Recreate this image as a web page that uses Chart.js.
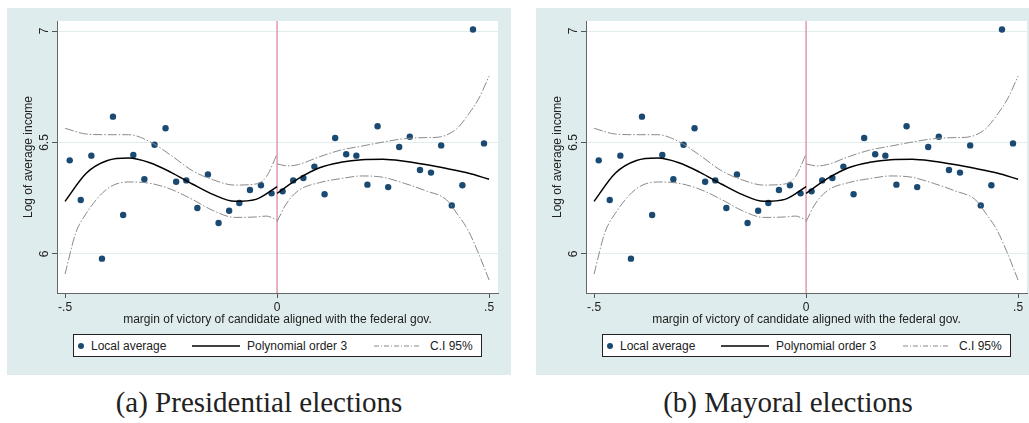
<!DOCTYPE html>
<html>
<head>
<meta charset="utf-8">
<script src="https://cdn.jsdelivr.net/npm/chart.js@4"></script>
<style>
  html, body { margin: 0; padding: 0; background: #fff; }
  body { width: 1029px; height: 423px; position: relative; overflow: hidden; font-family: "Liberation Sans", Arial, sans-serif; }
  .panel { position: absolute; top: 8px; width: 504px; height: 367px; background: #dfeced; }
  .panel canvas { position: absolute; left: 0; top: 0; }
  .legend { position: absolute; left: 66px; top: 326px; width: 409px; height: 23px; box-sizing: border-box;
            border: 1px solid #222; background: #fff; font-size: 12px; color: #222; }
  .legend span, .legend svg { position: absolute; }
  .legend span { top: 4px; white-space: nowrap; }
  .caption { position: absolute; top: 386px; width: 504px; text-align: center;
             font-family: "Liberation Serif", "Times New Roman", serif; font-size: 29px; color: #222; }
</style>
</head>
<body>
<div class="panel" style="left:7px"><canvas id="chartA" width="504" height="367"></canvas>
  <div class="legend">
    <svg style="left:3px;top:7px" width="8" height="8"><circle cx="4" cy="4" r="3" fill="#1a4a72"/></svg>
    <span style="left:17px">Local average</span>
    <svg style="left:118px;top:10px" width="48" height="2"><line x1="0" y1="1" x2="48" y2="1" stroke="#000" stroke-width="1.3"/></svg>
    <span style="left:173px">Polynomial order 3</span>
    <svg style="left:300px;top:10px" width="45" height="2"><line x1="0" y1="1" x2="45" y2="1" stroke="#888" stroke-width="1" stroke-dasharray="5 2 1 2"/></svg>
    <span style="left:356px">C.I 95%</span>
  </div>
</div>
<div class="panel" style="left:536px"><canvas id="chartB" width="504" height="367"></canvas>
  <div class="legend">
    <svg style="left:3px;top:7px" width="8" height="8"><circle cx="4" cy="4" r="3" fill="#1a4a72"/></svg>
    <span style="left:17px">Local average</span>
    <svg style="left:118px;top:10px" width="48" height="2"><line x1="0" y1="1" x2="48" y2="1" stroke="#000" stroke-width="1.3"/></svg>
    <span style="left:173px">Polynomial order 3</span>
    <svg style="left:300px;top:10px" width="45" height="2"><line x1="0" y1="1" x2="45" y2="1" stroke="#888" stroke-width="1" stroke-dasharray="5 2 1 2"/></svg>
    <span style="left:356px">C.I 95%</span>
  </div>
</div>
<div class="caption" style="left:7px">(a) Presidential elections</div>
<div class="caption" style="left:536px">(b) Mayoral elections</div>
<script>
// binned local averages
const binX = [-0.489, -0.463, -0.438, -0.413, -0.387, -0.363, -0.339, -0.313, -0.289, -0.263,
              -0.238, -0.214, -0.188, -0.163, -0.138, -0.113, -0.089, -0.064, -0.038, -0.013,
              0.013, 0.038, 0.062, 0.088, 0.112, 0.137, 0.163, 0.187, 0.213, 0.237,
              0.262, 0.288, 0.313, 0.337, 0.363, 0.387, 0.412, 0.437, 0.462, 0.488];
const localAvg = [6.420, 6.242, 6.441, 5.979, 6.616, 6.175, 6.444, 6.335, 6.490, 6.564,
                  6.324, 6.330, 6.206, 6.357, 6.139, 6.194, 6.229, 6.287, 6.308, 6.272,
                  6.281, 6.330, 6.341, 6.392, 6.268, 6.520, 6.447, 6.441, 6.311, 6.573,
                  6.300, 6.480, 6.526, 6.377, 6.365, 6.487, 6.218, 6.308, 7.007, 6.496];

// polynomial fit, each side of the cutoff
const fitLeftX = [-0.5, -0.45, -0.4, -0.35, -0.3, -0.25, -0.2, -0.15, -0.1, -0.05, 0];
const fitLeftY = [6.236, 6.362, 6.419, 6.430, 6.409, 6.366, 6.314, 6.266, 6.236, 6.245, 6.302];
const fitRightX = [0, 0.05, 0.1, 0.15, 0.2, 0.25, 0.3, 0.35, 0.4, 0.45, 0.5];
const fitRightY = [6.272, 6.338, 6.387, 6.411, 6.423, 6.425, 6.416, 6.401, 6.383, 6.363, 6.335];

// 95% confidence bands
const ciUpLeftX = [-0.5, -0.45, -0.4, -0.35, -0.3, -0.25, -0.2, -0.15, -0.1, -0.05, -0.025, 0];
const ciUpLeftY = [6.564, 6.538, 6.535, 6.535, 6.504, 6.442, 6.374, 6.332, 6.309, 6.314, 6.347, 6.448];
const ciLoLeftX = [-0.5, -0.475, -0.45, -0.4, -0.35, -0.3, -0.25, -0.2, -0.15, -0.1, -0.05, -0.025, 0];
const ciLoLeftY = [5.910, 6.093, 6.182, 6.293, 6.323, 6.317, 6.290, 6.245, 6.194, 6.164, 6.166, 6.170, 6.152];
const ciUpRightX = [0, 0.025, 0.05, 0.1, 0.15, 0.2, 0.25, 0.3, 0.35, 0.375, 0.4, 0.425, 0.45, 0.475, 0.5];
const ciUpRightY = [6.404, 6.395, 6.401, 6.436, 6.466, 6.484, 6.502, 6.517, 6.522, 6.523, 6.534, 6.564, 6.623, 6.695, 6.798];
const ciLoRightX = [0, 0.02, 0.05, 0.1, 0.15, 0.2, 0.25, 0.3, 0.35, 0.4, 0.425, 0.45, 0.475, 0.5];
const ciLoRightY = [6.145, 6.220, 6.284, 6.320, 6.338, 6.350, 6.344, 6.317, 6.284, 6.242, 6.179, 6.108, 6.003, 5.883];

const xTicks = [-0.5, 0, 0.5];
const xTickLabels = ['-.5', '0', '.5'];
const yTicks = [6, 6.5, 7];
const yTickLabels = ['6', '6.5', '7'];
const cutoff = 0;

Chart.defaults.font.family = '"Liberation Sans", Arial, sans-serif';
Chart.defaults.font.size = 12;
Chart.defaults.color = '#222';

function pts(xs, ys) {
    return xs.map((x, i) => ({x: x, y: ys[i]}));
}

const plotBg = {
    id: 'plotBg',
    beforeDraw(chart) {
        const a = chart.chartArea, ctx = chart.ctx;
        ctx.save();
        ctx.fillStyle = '#fff';
        ctx.fillRect(a.left, a.top, a.right - a.left, a.bottom - a.top);
        ctx.restore();
    }
};

const cutoffLine = {
    id: 'cutoffLine',
    beforeDatasetsDraw(chart) {
        const a = chart.chartArea, ctx = chart.ctx;
        const px = chart.scales.x.getPixelForValue(cutoff);
        ctx.save();
        ctx.strokeStyle = '#e0899b';
        ctx.lineWidth = 1.3;
        ctx.beginPath();
        ctx.moveTo(px, a.top);
        ctx.lineTo(px, a.bottom);
        ctx.stroke();
        ctx.restore();
    }
};

function curve(xs, ys, color, width, dash) {
    return {
        data: pts(xs, ys),
        showLine: true,
        borderColor: color,
        borderWidth: width,
        borderDash: dash,
        pointRadius: 0,
        cubicInterpolationMode: 'monotone'
    };
}

function makePanel(id) {
    const ciColor = '#8a8a8a', ciDash = [9, 2, 1.5, 2];
    return new Chart(document.getElementById(id), {
        type: 'scatter',
        data: {
            datasets: [
                curve(ciUpLeftX, ciUpLeftY, ciColor, 1, ciDash),
                curve(ciLoLeftX, ciLoLeftY, ciColor, 1, ciDash),
                curve(ciUpRightX, ciUpRightY, ciColor, 1, ciDash),
                curve(ciLoRightX, ciLoRightY, ciColor, 1, ciDash),
                curve(fitLeftX, fitLeftY, '#000', 1.5, []),
                curve(fitRightX, fitRightY, '#000', 1.5, []),
                {
                    data: pts(binX, localAvg),
                    pointRadius: 3.2,
                    pointBackgroundColor: '#1a4a72',
                    pointBorderWidth: 0
                }
            ]
        },
        options: {
            responsive: false,
            animation: false,
            layout: { padding: { left: 0, top: 13, right: 13, bottom: 42 } },
            plugins: { legend: { display: false }, tooltip: { enabled: false } },
            scales: {
                x: {
                    type: 'linear',
                    min: -0.519,
                    max: 0.521,
                    afterBuildTicks: (s) => { s.ticks = xTicks.map(v => ({value: v})); },
                    afterFit: (s) => { s.height = 40; },
                    ticks: {
                        padding: 2,
                        color: '#222',
                        callback: (v) => xTickLabels[xTicks.indexOf(v)]
                    },
                    grid: { drawOnChartArea: false, tickLength: 5, tickColor: '#555' },
                    border: { color: '#666', width: 1 },
                    title: {
                        display: true,
                        text: 'margin of victory of candidate aligned with the federal gov.',
                        color: '#222',
                        padding: { top: 0, bottom: 6 }
                    }
                },
                y: {
                    min: 5.825,
                    max: 7.045,
                    afterBuildTicks: (s) => { s.ticks = yTicks.map(v => ({value: v})); },
                    afterFit: (s) => { s.width = 50; },
                    ticks: {
                        minRotation: 90,
                        maxRotation: 90,
                        crossAlign: 'center',
                        padding: -1,
                        color: '#222',
                        callback: (v) => yTickLabels[yTicks.indexOf(v)]
                    },
                    grid: { color: '#e2eeee', tickLength: 5, tickColor: '#555' },
                    border: { color: '#666', width: 1 },
                    title: {
                        display: true,
                        text: 'Log of average income',
                        color: '#222',
                        padding: { top: 14, bottom: 0 }
                    }
                }
            }
        },
        plugins: [plotBg, cutoffLine]
    });
}

makePanel('chartA');
makePanel('chartB');
</script>
</body>
</html>
